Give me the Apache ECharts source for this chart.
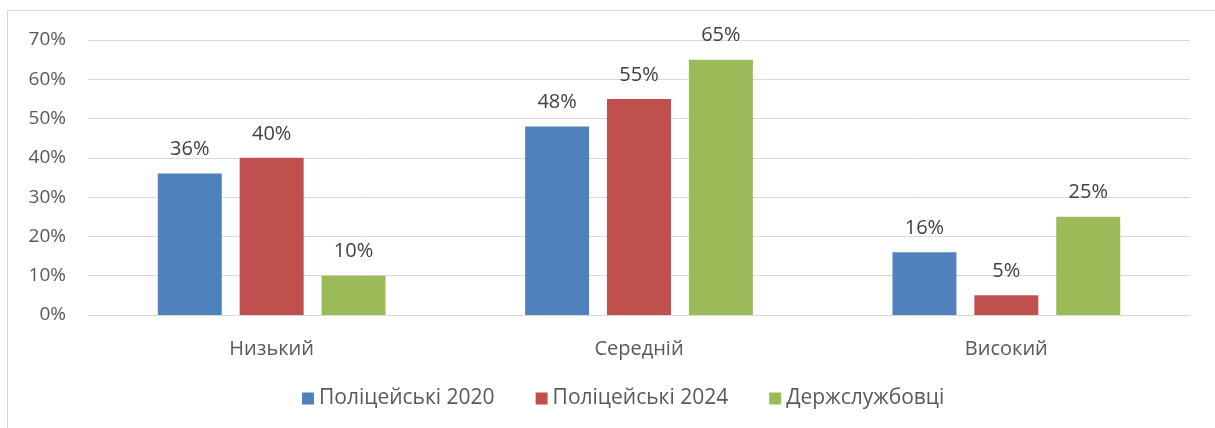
<!DOCTYPE html>
<html><head><meta charset="utf-8">
<script src="https://cdn.jsdelivr.net/npm/echarts@6/dist/echarts.min.js"></script>
<style>
html,body{margin:0;padding:0;background:#fff;}
#frame{position:absolute;left:7px;top:10px;width:1220px;height:430px;border:1px solid #d9d9d9;box-sizing:border-box;}
#c{position:absolute;left:0;top:0;width:1215px;height:428px;}
</style></head>
<body>
<div id="frame"></div>
<div id="c"></div>
<script>
const categories = ['Низький', 'Середній', 'Високий'];
const police2020 = [36, 48, 16];
const police2024 = [40, 55, 5];
const civil = [10, 65, 25];
const seriesNames = ['Поліцейські 2020', 'Поліцейські 2024', 'Держслужбовці'];
const colors = ['#4F81BD', '#C0504D', '#9BBB59'];
const font = '"Open Sans", "Noto Sans", sans-serif';

const chart = echarts.init(document.getElementById('c'));
const mk = (name, data, color) => ({
  name, type: 'bar', data,
  itemStyle: {color},
  barGap: '28%', barCategoryGap: '38%',
  label: {show: true, position: 'top', distance: 14, formatter: '{c}%', color: '#404040', fontSize: 20, fontFamily: font}
});
chart.setOption({
  animation: false,
  grid: {left: 88, right: 25, top: 40, bottom: 113},
  legend: {
    data: seriesNames, bottom: 14, left: 297, itemWidth: 12, itemHeight: 12, itemGap: 41,
    icon: 'rect',
    textStyle: {color: '#595959', fontSize: 21, fontFamily: font}
  },
  xAxis: {
    type: 'category', data: categories,
    axisLine: {lineStyle: {color: '#d9d9d9'}}, axisTick: {show: false},
    axisLabel: {color: '#595959', fontSize: 20, fontFamily: font, margin: 24}
  },
  yAxis: {
    type: 'value', min: 0, max: 70, interval: 10,
    axisLabel: {formatter: '{value}%', color: '#595959', fontSize: 19, fontFamily: font, margin: 22},
    splitLine: {lineStyle: {color: '#d9d9d9', width: 1}},
    axisLine: {show: false}, axisTick: {show: false}
  },
  series: [mk(seriesNames[0], police2020, colors[0]), mk(seriesNames[1], police2024, colors[1]), mk(seriesNames[2], civil, colors[2])]
});
</script>
</body></html>
